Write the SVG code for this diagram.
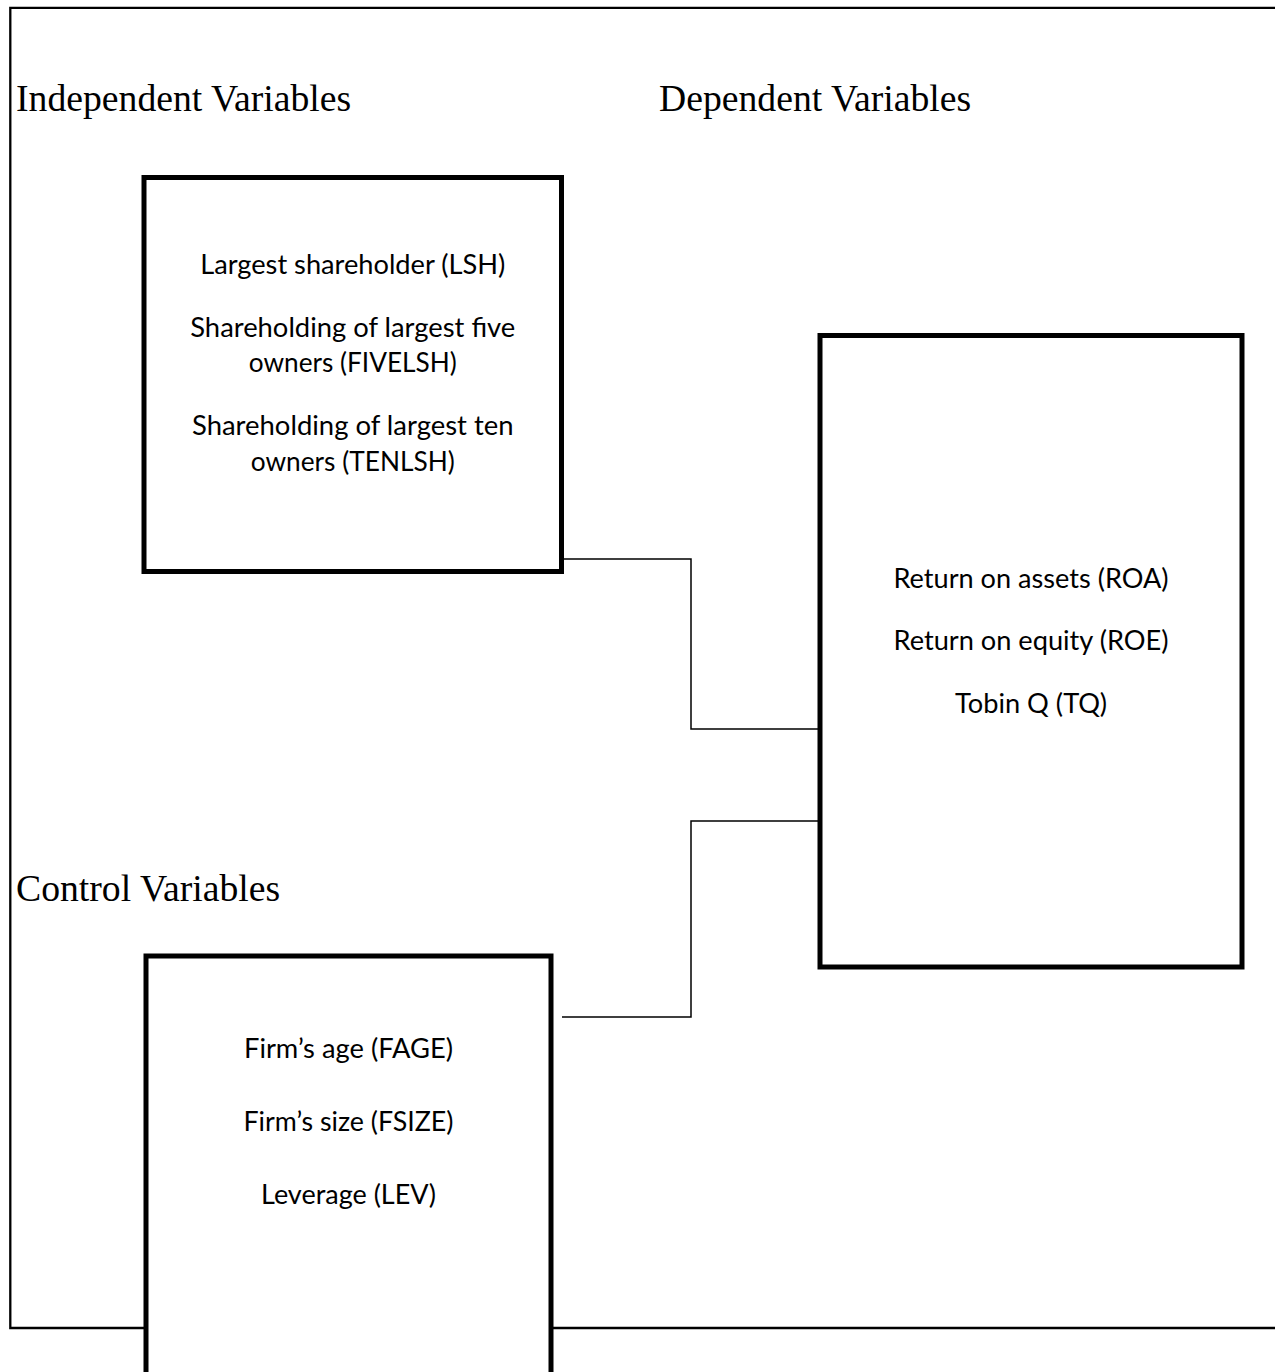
<svg xmlns="http://www.w3.org/2000/svg" width="1275" height="1372" viewBox="0 0 1275 1372">
  <style>
    .heading { font-family: "Liberation Serif", "Times New Roman", serif; font-size: 37.7px; fill: #000; }
    .label { font-family: Lato, "Open Sans", sans-serif; font-size: 27px; fill: #000; text-anchor: middle; }
    .box { fill: #fff; stroke: #000; stroke-width: 5; }
    .conn { fill: none; stroke: #000; stroke-width: 1.5; }
    .frame { fill: none; stroke: #000; stroke-width: 2.3; }
  </style>
  <rect x="0" y="0" width="1275" height="1372" fill="#fff"/>
  <path class="frame" d="M1275 7.8 H10.3 V1328 H1275"/>

  <text class="heading" x="16" y="111">Independent Variables</text>
  <text class="heading" x="659" y="111">Dependent Variables</text>
  <text class="heading" x="16" y="901">Control Variables</text>

  <g id="connectors">
    <path class="conn" d="M563.5 559 H691 V729 H820"/>
    <path class="conn" d="M820 821 H691 V1017 H562"/>
  </g>

  <g id="independent">
    <rect class="box" x="144" y="177.5" width="417.5" height="394"/>
    <text class="label" x="352.75" y="274" textLength="305" lengthAdjust="spacingAndGlyphs">Largest shareholder (LSH)</text>
    <text class="label" x="352.75" y="336.5" textLength="325" lengthAdjust="spacingAndGlyphs">Shareholding of largest five</text>
    <text class="label" x="352.75" y="372" textLength="208" lengthAdjust="spacingAndGlyphs">owners (FIVELSH)</text>
    <text class="label" x="352.75" y="434.5" textLength="321.5" lengthAdjust="spacingAndGlyphs">Shareholding of largest ten</text>
    <text class="label" x="352.75" y="470.5" textLength="204" lengthAdjust="spacingAndGlyphs">owners (TENLSH)</text>
  </g>

  <g id="dependent">
    <rect class="box" x="820" y="335.5" width="422" height="631.5"/>
    <text class="label" x="1031" y="588" textLength="275" lengthAdjust="spacingAndGlyphs">Return on assets (ROA)</text>
    <text class="label" x="1031" y="650" textLength="275" lengthAdjust="spacingAndGlyphs">Return on equity (ROE)</text>
    <text class="label" x="1031" y="712.5" textLength="152" lengthAdjust="spacingAndGlyphs">Tobin Q (TQ)</text>
  </g>

  <g id="control">
    <rect class="box" x="146" y="956" width="405" height="440"/>
    <text class="label" x="348.5" y="1058" textLength="209" lengthAdjust="spacingAndGlyphs">Firm’s age (FAGE)</text>
    <text class="label" x="348.5" y="1131" textLength="210" lengthAdjust="spacingAndGlyphs">Firm’s size (FSIZE)</text>
    <text class="label" x="348.5" y="1204" textLength="175" lengthAdjust="spacingAndGlyphs">Leverage (LEV)</text>
  </g>
</svg>
